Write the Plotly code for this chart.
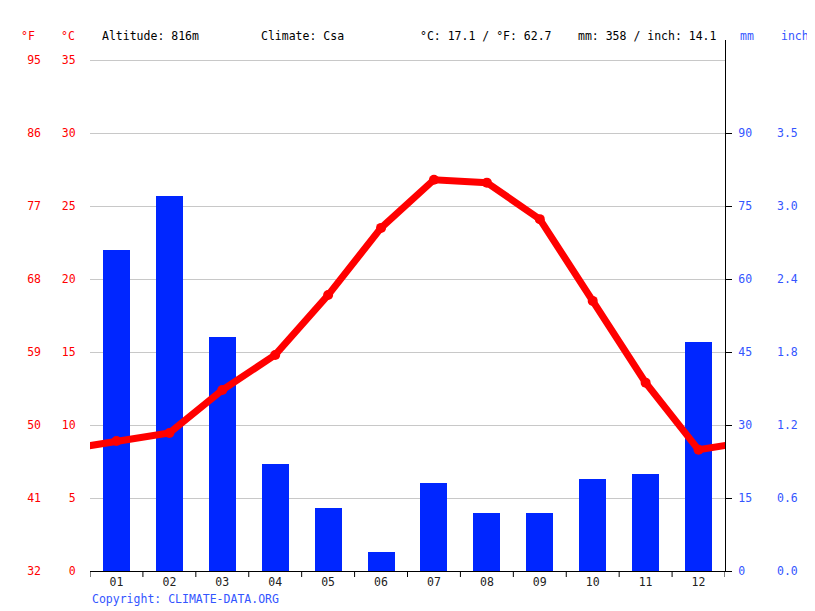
import plotly.graph_objects as go

months = ["01", "02", "03", "04", "05", "06", "07", "08", "09", "10", "11", "12"]
temp_c = [8.9, 9.45, 12.4, 14.8, 18.9, 23.5, 26.8, 26.6, 24.1, 18.5, 12.9, 8.3]
precip_mm = [66, 77, 48, 22, 13, 4, 18, 12, 12, 19, 20, 47]

c_ticks = [0, 5, 10, 15, 20, 25, 30, 35]
f_ticks = [32, 41, 50, 59, 68, 77, 86, 95]
mm_ticks = [0, 15, 30, 45, 60, 75, 90]
inch_labels = ["0.0", "0.6", "1.2", "1.8", "2.4", "3.0", "3.5"]

header = ["Altitude: 816m", "Climate: Csa", "°C: 17.1 / °F: 62.7", "mm: 358 / inch: 14.1"]

OFF = 8  # browser body margin
W, H = 815 - OFF, 611 - OFF
L, R, T, B = 90 - OFF, 725 - OFF, 40 - OFF, 571 - OFF
PH = B - T
px_per_c = 73 / 5.0
c_top = PH / px_per_c
mm_top = c_top * 3
f_top = 32 + c_top * 1.8

FONT = "DejaVu Sans Mono"
FS = 11.5
RED = "#ff0000"
BLUE = "#0026ff"
TBLUE = "#3355ff"


def px(x):
    return (x - OFF) / W


def py(y):
    return (B - (y - OFF)) / PH


xs = list(range(1, 13))
line_x = [0] + xs + [13]
line_y = [temp_c[-1]] + temp_c + [temp_c[0]]

fig = go.Figure()
# bars on the base axis (drawn first, underneath)
fig.add_trace(go.Bar(x=xs, y=precip_mm, yaxis="y", marker=dict(color=BLUE, line=dict(width=0)),
                     width=0.51, showlegend=False, hoverinfo="skip"))
# temperature on overlaying axis (drawn on top)
fig.add_trace(go.Scatter(x=line_x, y=line_y, yaxis="y2", mode="lines",
                         line=dict(color=RED, width=7), showlegend=False, hoverinfo="skip"))
fig.add_trace(go.Scatter(x=xs, y=temp_c, yaxis="y2", mode="markers",
                         marker=dict(color=RED, size=10), showlegend=False, hoverinfo="skip",
                         cliponaxis=False))
# invisible helpers so the secondary scales are drawn
fig.add_trace(go.Scatter(x=xs, y=[32 + 1.8 * t for t in temp_c], yaxis="y3", mode="markers",
                         marker=dict(opacity=0), showlegend=False, hoverinfo="skip"))
fig.add_trace(go.Scatter(x=xs, y=precip_mm, yaxis="y4", mode="markers",
                         marker=dict(opacity=0), showlegend=False, hoverinfo="skip"))

tf_red = dict(family=FONT, size=FS, color=RED)
tf_blue = dict(family=FONT, size=FS, color=TBLUE)

fig.update_layout(
    template="none",
    width=W, height=H,
    margin=dict(l=0, r=0, t=T, b=H - B, pad=0),
    paper_bgcolor="white", plot_bgcolor="white",
    font=dict(family=FONT, size=FS),
    bargap=0,
    xaxis=dict(domain=[L / W, R / W], range=[0.5, 12.5], tickvals=xs, ticktext=months,
               showgrid=False, showline=True, linecolor="black", linewidth=1,
               ticks="", tickfont=dict(family=FONT, size=FS, color="#222222"),
               automargin=False, zeroline=False, fixedrange=True),
    # mm (right)
    yaxis=dict(range=[0, mm_top], tickvals=mm_ticks, side="right", anchor="x",
               showgrid=False, showline=True, linecolor="black", linewidth=1, zeroline=False,
               ticks="outside", ticklen=6, tickcolor="black", ticklabelstandoff=4,
               tickfont=tf_blue, automargin=False),
    # °C (left) with grid
    yaxis2=dict(range=[0, c_top], tickvals=c_ticks, overlaying="y", side="left", anchor="x",
                showgrid=True, gridcolor="#c8c8c8", gridwidth=1,
                showline=False, zeroline=False, ticks="outside", ticklen=11, tickcolor="rgba(0,0,0,0)",
                tickfont=tf_red, automargin=False),
    # °F (far left)
    yaxis3=dict(range=[32, f_top], tickvals=f_ticks, overlaying="y", anchor="free",
                position=px(41), side="left", showgrid=False, showline=False, zeroline=False,
                ticks="", tickfont=tf_red, automargin=False),
    # inch (far right)
    yaxis4=dict(range=[0, mm_top], tickvals=mm_ticks, ticktext=inch_labels, overlaying="y",
                side="right", anchor="free", position=px(776), showgrid=False, showline=False,
                zeroline=False, ticks="", tickfont=tf_blue, automargin=False),
)

# month boundary ticks on x-axis
for i in range(0, 13):
    fig.add_shape(type="line", xref="x", yref="paper", x0=0.5 + i, x1=0.5 + i, y0=0, y1=-6 / PH,
                  line=dict(color="black", width=1))

ann = [
    (37, "°F", RED, "right"),
    (77, "°C", RED, "right"),
    (738, "mm", TBLUE, "left"),
    (779, "inch", TBLUE, "left"),
]
for x, t in zip([100, 259, 418, 576], header):
    ann.append((x, t, "black", "left"))
for x, t, c, a in ann:
    fig.add_annotation(x=px(x), y=py(36), xref="paper", yref="paper", text=t, showarrow=False,
                       xanchor=a, yanchor="middle", font=dict(family=FONT, size=FS, color=c))
fig.add_annotation(x=px(90), y=py(599), xref="paper", yref="paper",
                   text="Copyright: CLIMATE-DATA.ORG", showarrow=False, xanchor="left", yanchor="middle",
                   font=dict(family=FONT, size=FS, color=TBLUE))

fig.write_html("out.html")
